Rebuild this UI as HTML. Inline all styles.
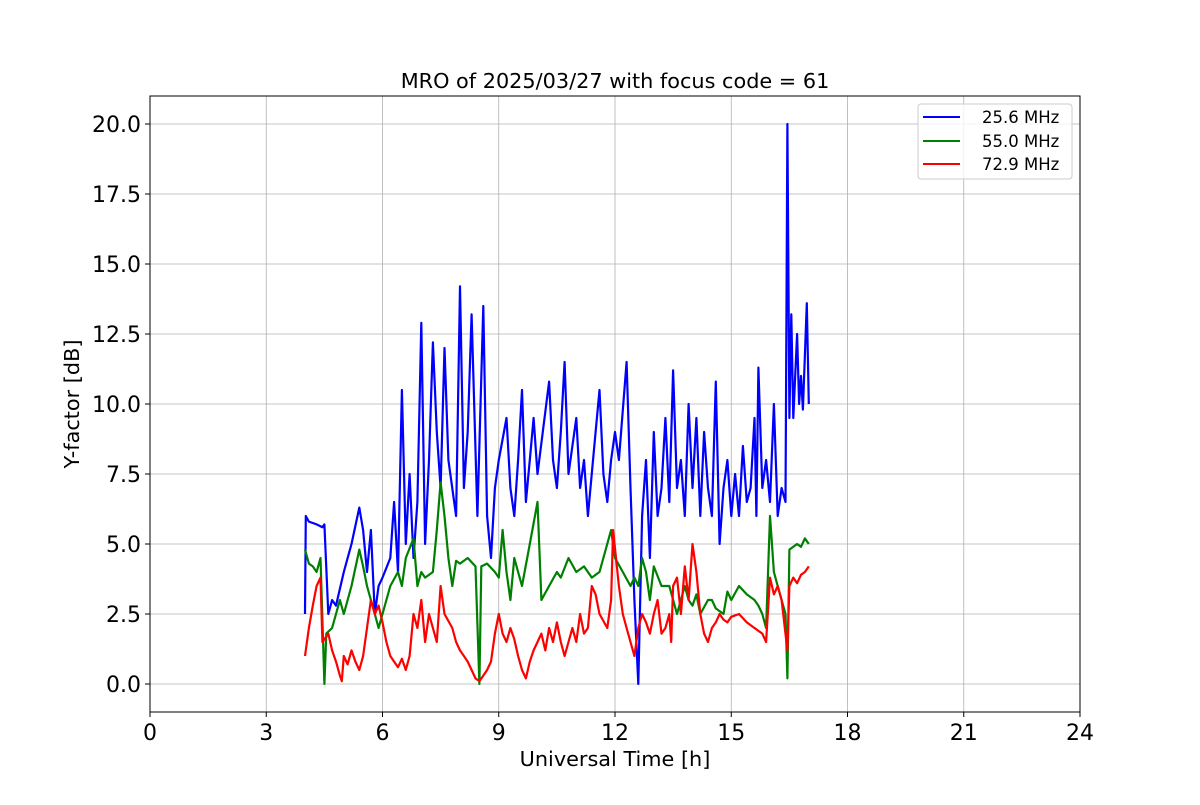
<!DOCTYPE html>
<html><head><meta charset="utf-8"><style>
body{margin:0;background:#fff;}
svg text{font-family:"DejaVu Sans","Liberation Sans",sans-serif;}
</style></head><body>
<svg id="chart" width="1200" height="800" xmlns="http://www.w3.org/2000/svg">
<rect width="1200" height="800" fill="#fff"/>
<g id="grid"></g>
<g id="series"></g>
<rect x="150" y="96" width="930" height="616" fill="none" stroke="#000" stroke-width="1"/>
<g id="ticks"></g>
<text x="615" y="88" text-anchor="middle" font-size="20.8">MRO of 2025/03/27 with focus code = 61</text>
<text x="615" y="766" text-anchor="middle" font-size="20.8">Universal Time [h]</text>
<text transform="translate(79,404) rotate(-90)" text-anchor="middle" font-size="20.8">Y-factor [dB]</text>
<g>
<rect x="918" y="104" width="154" height="75" rx="3" fill="#fff" fill-opacity="0.8" stroke="#ccc"/>
<g><line x1="923" y1="117" x2="960" y2="117" stroke="#0000ff" stroke-width="2"/><text x="982" y="123" font-size="16.5">25.6 MHz</text></g>
<g><line x1="923" y1="141" x2="960" y2="141" stroke="#008000" stroke-width="2"/><text x="982" y="147" font-size="16.5">55.0 MHz</text></g>
<g><line x1="923" y1="164" x2="960" y2="164" stroke="#ff0000" stroke-width="2"/><text x="982" y="170" font-size="16.5">72.9 MHz</text></g>
</g>
</svg>
<script>
const xTicks=[0,3,6,9,12,15,18,21,24];
const yTicks=[0,2.5,5,7.5,10,12.5,15,17.5,20];
const yTickLabels=["0.0","2.5","5.0","7.5","10.0","12.5","15.0","17.5","20.0"];
const blueT=[4.0,4.02,4.1,4.3,4.45,4.5,4.6,4.7,4.8,5.0,5.2,5.4,5.5,5.6,5.7,5.8,5.9,6.0,6.2,6.3,6.4,6.5,6.6,6.7,6.8,6.9,7.0,7.1,7.2,7.3,7.4,7.5,7.6,7.7,7.9,8.0,8.1,8.2,8.3,8.45,8.6,8.7,8.8,8.9,9.0,9.2,9.3,9.4,9.5,9.6,9.7,9.8,9.9,10.0,10.3,10.4,10.5,10.6,10.7,10.8,10.9,11.0,11.1,11.2,11.3,11.5,11.6,11.7,11.8,11.9,12.0,12.1,12.3,12.4,12.5,12.6,12.7,12.8,12.9,13.0,13.1,13.2,13.3,13.4,13.5,13.6,13.7,13.8,13.9,14.0,14.1,14.2,14.3,14.4,14.5,14.6,14.7,14.8,14.9,15.0,15.1,15.2,15.3,15.4,15.5,15.6,15.65,15.7,15.8,15.9,16.0,16.1,16.2,16.3,16.4,16.45,16.5,16.55,16.6,16.7,16.75,16.8,16.85,16.95,17.0];
const blueV=[2.5,6.0,5.8,5.7,5.6,5.7,2.5,3.0,2.8,4.0,5.0,6.3,5.5,4.0,5.5,2.5,3.5,3.8,4.5,6.5,4.0,10.5,5.0,7.5,4.5,6.5,12.9,5.0,8.0,12.2,9.0,7.0,12.0,8.0,6.0,14.2,7.0,9.0,13.2,6.0,13.5,6.0,4.5,7.0,8.0,9.5,7.0,6.0,8.0,10.5,6.5,8.0,9.5,7.5,10.8,8.0,7.0,9.0,11.5,7.5,8.5,9.5,7.0,8.0,6.0,9.0,10.5,7.5,6.5,8.0,9.0,8.0,11.5,7.0,3.0,0.0,6.0,8.0,4.5,9.0,6.0,7.0,9.5,6.5,11.2,7.0,8.0,6.0,10.0,7.0,9.5,6.0,9.0,7.0,6.0,10.8,5.0,7.0,8.0,6.0,7.5,6.0,8.5,6.5,7.0,9.5,6.0,11.3,7.0,8.0,6.5,10.0,6.0,7.0,6.5,20.0,9.5,13.2,9.5,12.5,10.0,11.0,9.8,13.6,10.0];
const greenT=[4.0,4.1,4.2,4.3,4.4,4.5,4.55,4.7,4.8,4.9,5.0,5.2,5.4,5.5,5.6,5.8,5.9,6.0,6.1,6.2,6.4,6.5,6.6,6.8,6.9,7.0,7.1,7.3,7.4,7.5,7.6,7.7,7.8,7.9,8.0,8.2,8.4,8.5,8.55,8.7,8.9,9.0,9.1,9.2,9.3,9.4,9.5,9.6,9.8,10.0,10.1,10.3,10.5,10.6,10.8,11.0,11.2,11.4,11.6,11.9,12.0,12.2,12.4,12.5,12.6,12.7,12.8,12.9,13.0,13.2,13.4,13.6,13.8,13.9,14.0,14.1,14.2,14.4,14.5,14.6,14.8,14.9,15.0,15.2,15.4,15.6,15.7,15.8,15.9,16.0,16.1,16.2,16.3,16.4,16.45,16.5,16.7,16.8,16.9,17.0];
const greenV=[4.8,4.3,4.2,4.0,4.5,0.0,1.8,2.0,2.5,3.0,2.5,3.5,4.8,4.2,3.5,2.5,2.0,2.5,3.0,3.5,4.0,3.5,4.5,5.2,3.5,4.0,3.8,4.0,5.5,7.2,6.0,4.5,3.5,4.4,4.3,4.5,4.2,0.0,4.2,4.3,4.0,3.8,5.5,4.0,3.0,4.5,4.0,3.5,5.0,6.5,3.0,3.5,4.0,3.8,4.5,4.0,4.2,3.8,4.0,5.5,4.5,4.0,3.5,3.8,3.5,4.5,4.0,3.0,4.2,3.5,3.5,2.5,3.5,3.0,2.8,3.2,2.5,3.0,3.0,2.7,2.5,3.3,3.0,3.5,3.2,3.0,2.8,2.5,2.0,6.0,4.0,3.5,3.0,2.5,0.2,4.8,5.0,4.9,5.2,5.0];
const redT=[4.0,4.1,4.2,4.3,4.4,4.45,4.6,4.7,4.8,4.9,4.95,5.0,5.1,5.2,5.3,5.4,5.5,5.7,5.8,5.9,6.0,6.1,6.2,6.3,6.4,6.5,6.6,6.7,6.8,6.9,7.0,7.1,7.2,7.3,7.4,7.5,7.6,7.8,7.9,8.0,8.1,8.2,8.3,8.4,8.5,8.6,8.7,8.8,8.9,9.0,9.1,9.2,9.3,9.4,9.5,9.6,9.7,9.8,9.9,10.0,10.1,10.2,10.3,10.4,10.5,10.6,10.7,10.8,10.9,11.0,11.1,11.2,11.3,11.4,11.5,11.6,11.8,11.9,11.95,12.1,12.2,12.3,12.4,12.5,12.6,12.7,12.8,12.9,13.0,13.1,13.2,13.3,13.4,13.45,13.5,13.6,13.7,13.8,13.9,14.0,14.1,14.2,14.3,14.4,14.5,14.6,14.7,14.8,14.9,15.0,15.2,15.4,15.6,15.8,15.9,16.0,16.1,16.2,16.3,16.45,16.5,16.6,16.7,16.8,16.9,17.0];
const redV=[1.0,2.0,2.8,3.5,3.8,1.5,1.8,1.2,0.8,0.3,0.1,1.0,0.7,1.2,0.8,0.5,1.0,3.0,2.5,2.8,2.2,1.5,1.0,0.8,0.6,0.9,0.5,1.0,2.5,2.0,3.0,1.5,2.5,2.0,1.5,3.5,2.5,2.0,1.5,1.2,1.0,0.8,0.5,0.2,0.1,0.3,0.5,0.8,1.8,2.5,1.8,1.5,2.0,1.6,1.0,0.5,0.2,0.8,1.2,1.5,1.8,1.2,2.0,1.5,2.2,1.5,1.0,1.5,2.0,1.5,2.5,1.8,2.0,3.5,3.2,2.5,2.0,3.0,5.5,3.5,2.5,2.0,1.5,1.0,2.0,2.5,2.2,1.8,2.5,3.0,1.8,2.0,2.5,1.5,3.5,3.8,2.5,4.2,3.0,5.0,4.0,2.5,1.8,1.5,2.0,2.2,2.5,2.3,2.2,2.4,2.5,2.2,2.0,1.8,1.5,3.8,3.2,3.5,3.0,1.2,3.5,3.8,3.6,3.9,4.0,4.2];

const NS="http://www.w3.org/2000/svg";
const X0=150,X1=1080,Y0=712,Y1=96,xMin=0,xMax=24,yMin=-1,yMax=21;
function xs(v){return X0+(v-xMin)/(xMax-xMin)*(X1-X0);}
function ys(v){return Y0-(v-yMin)/(yMax-yMin)*(Y0-Y1);}
function mk(tag,attrs,parent){const e=document.createElementNS(NS,tag);for(const k in attrs)e.setAttribute(k,attrs[k]);parent.appendChild(e);return e;}
const grid=document.getElementById('grid'),ticks=document.getElementById('ticks'),ser=document.getElementById('series');
xTicks.forEach(t=>{
  const x=xs(t);
  const g=mk('line',{x1:x,x2:x,y1:Y1,y2:Y0,stroke:'#b0b0b0','stroke-width':0.8},grid);
  
  
  mk('line',{x1:x,x2:x,y1:Y0,y2:Y0+5,stroke:'#000'},ticks);
  const tx=mk('text',{x:x,y:Y0+28,'text-anchor':'middle','font-size':22},ticks);
  tx.textContent=t;
  
  
});
yTicks.forEach((t,i)=>{
  const y=ys(t);
  const g=mk('line',{x1:X0,x2:X1,y1:y,y2:y,stroke:'#b0b0b0','stroke-width':0.8},grid);
  
  
  mk('line',{x1:X0-5,x2:X0,y1:y,y2:y,stroke:'#000'},ticks);
  const tx=mk('text',{x:X0-9,y:y+8,'text-anchor':'end','font-size':22},ticks);
  tx.textContent=yTickLabels[i];
  
  
});
function line(ts,vals,color,name){
  const d=vals.map((v,i)=>(i?'L':'M')+xs(ts[i]).toFixed(1)+','+ys(v).toFixed(1)).join('');
  const p=mk('path',{d:d,fill:'none',stroke:color,'stroke-width':2.2,'stroke-linejoin':'round'},ser);
  
  
}
line(blueT,blueV,'#0000ff','series-25-6-mhz');
line(greenT,greenV,'#008000','series-55-0-mhz');
line(redT,redV,'#ff0000','series-72-9-mhz');
</script>
</body></html>
